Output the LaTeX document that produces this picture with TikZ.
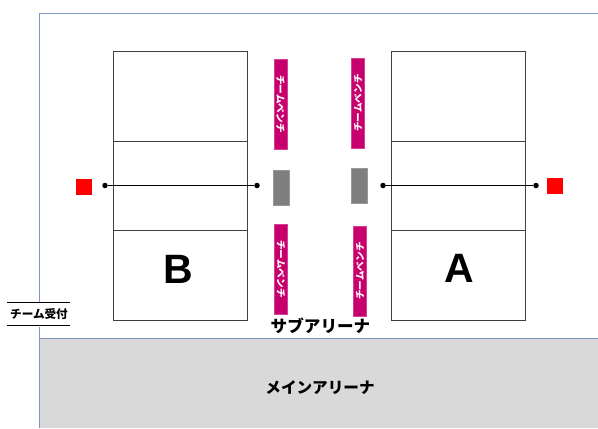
\documentclass[tikz,border=0pt]{standalone}
\usepackage{fontspec}
\newfontfamily\cjk{Noto Sans CJK JP}[BoldFont={Noto Sans CJK JP Black}]
\setmainfont{Liberation Sans}
\tikzset{
  px/.style={x=1bp,y=-1bp},
  court/.style={draw=black!75,line width=0.7pt,fill=white,minimum width=134bp,minimum height=90bp,inner sep=0pt,outer sep=0pt},
  bench/.style={fill=benchpink,draw=benchpink!75!white,line width=0.3pt,minimum width=13bp,minimum height=90bp,inner sep=0pt,font=\cjk\bfseries\fontsize{9.6bp}{10bp}\selectfont,text=white},
  post/.style={fill=postgray,draw=postgray!80!white,line width=0.3pt,minimum width=15.5bp,minimum height=35bp,inner sep=0pt},
  redsq/.style={fill=red,minimum size=16bp,inner sep=0pt},
  netdot/.style={circle,fill=black,minimum size=5.5bp,inner sep=0pt},
  netline/.style={draw=black,line width=0.6pt},
  letter/.style={font=\bfseries\fontsize{41bp}{41bp}\selectfont,inner sep=0pt},
  arena/.style={font=\cjk\bfseries\fontsize{16.6bp}{18bp}\selectfont,inner sep=0pt},
}
\definecolor{benchpink}{HTML}{C8006E}
\definecolor{postgray}{HTML}{7F7F7F}
\definecolor{wallblue}{HTML}{7F96C4}
\definecolor{maingray}{HTML}{D9D9D9}
\begin{document}
\begin{tikzpicture}[px]
\useasboundingbox (0,0) rectangle (598,428);
% hall
\fill[maingray] (39,338) rectangle (598,428);
\draw[wallblue,line width=0.8pt] (598,13) -- (39,13) -- (39,428);
\draw[wallblue,line width=0.8pt] (39,338) -- (598,338);
% courts
\node[court] (b1) at (180,96) {};
\node[court] (b2) at (180,186) {};
\node[court] (b3) at (180,275.5) {};
\node[court] (a1) at (458.5,96) {};
\node[court] (a2) at (458.5,186) {};
\node[court] (a3) at (458.5,275.5) {};
\node[letter] (bl) at (178,269) {B};
\node[letter] (al) at (459,268) {A};
% nets
\node[netdot] (nb1) at (105,185.5) {};
\node[netdot] (nb2) at (257,185.5) {};
\node[netdot] (na1) at (383,185.5) {};
\node[netdot] (na2) at (536,185.5) {};
\draw[netline] (nb1) -- (nb2);
\draw[netline] (na1) -- (na2);
% red squares
\node[redsq] (rb) at (84,186.5) {};
\node[redsq] (ra) at (555,185.5) {};
% posts
\node[post] (pb) at (281,188) {};
\node[post] (pa) at (359,185.5) {};
% benches
\node[bench] (s1) at (280.5,104) {\rotatebox{-90}{チームベンチ}};
\node[bench] (s2) at (358,103) {\rotatebox{90}{チームベンチ}};
\node[bench] (s3) at (281,269) {\rotatebox{-90}{チームベンチ}};
\node[bench] (s4) at (360,271) {\rotatebox{90}{チームベンチ}};
% labels
\node[arena] (sub) at (320.5,325.5) {サブアリーナ};
\node[arena,font=\cjk\bfseries\fontsize{15.6bp}{17bp}\selectfont] (main) at (320,388) {メインアリーナ};
\node[fill=white,minimum width=63bp,minimum height=25bp,inner sep=0pt] (rcpt) at (38.5,314) {};
\node[inner sep=0pt,font=\cjk\bfseries\fontsize{11.6bp}{13bp}\selectfont] (rcptt) at (39,314.5) {チーム受付};
\draw[black,line width=0.7pt] (rcpt.north west)++(0,1.5) -- ++(63,0);
\draw[black,line width=0.7pt] (rcpt.south west)++(0,-1) -- ++(63,0);
\end{tikzpicture}
\end{document}
